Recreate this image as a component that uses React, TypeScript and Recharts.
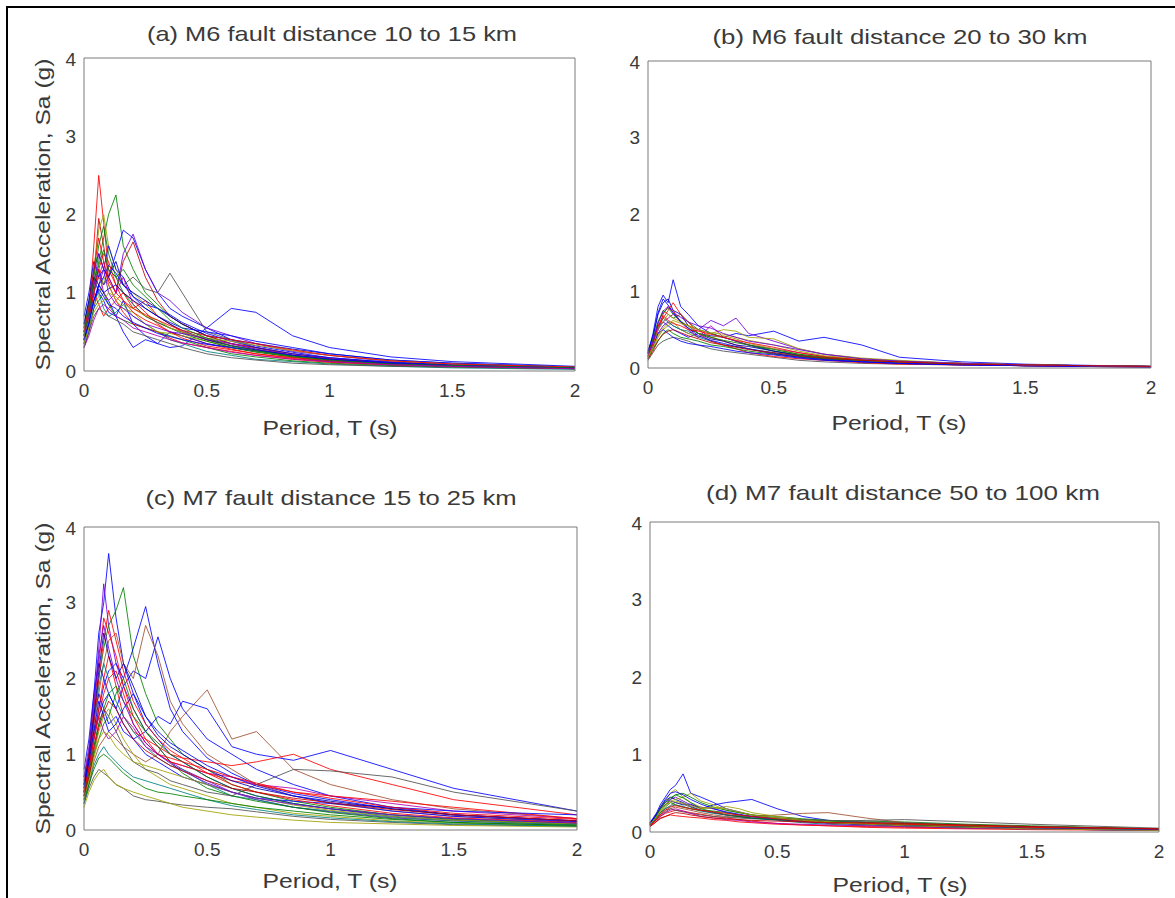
import { LineChart, Line, XAxis, YAxis } from "recharts";

// periods (s) shared by every spectrum
const periods = [0, 0.02, 0.04, 0.06, 0.08, 0.1, 0.13, 0.16, 0.2, 0.25, 0.3, 0.35, 0.4, 0.5, 0.6, 0.7, 0.85, 1.0, 1.25, 1.5, 2.0];

const xTicks = [0, 0.5, 1, 1.5, 2];
const yTicks = [0, 1, 2, 3, 4];

const B = "#0000ff", DB = "#0000b0", G = "#008000", R = "#ff0000", DR = "#c00000", C = "#008080";
const M = "#b000b0", P = "#7000e0", Y = "#a0a000", K = "#505050", BR = "#a05030";

// (a) M6, 10-15 km
const spectraA = [
  [0.45, 0.8, 1.6, 2.5, 1.9, 1.3, 1.1, 1.0, 0.9, 0.75, 0.6, 0.5, 0.45, 0.35, 0.28, 0.22, 0.16, 0.12, 0.08, 0.06, 0.03],
  [0.5, 0.7, 1.0, 1.4, 1.7, 2.0, 2.25, 1.6, 1.3, 1.0, 0.85, 0.7, 0.6, 0.45, 0.35, 0.28, 0.2, 0.15, 0.1, 0.07, 0.04],
  [0.4, 0.6, 1.0, 1.3, 1.1, 1.2, 1.5, 1.8, 1.7, 1.3, 1.0, 0.8, 0.7, 0.55, 0.4, 0.32, 0.24, 0.17, 0.11, 0.08, 0.05],
  [0.35, 0.6, 1.2, 1.95, 1.6, 1.2, 1.0, 1.4, 1.65, 1.2, 0.9, 0.7, 0.6, 0.45, 0.35, 0.3, 0.2, 0.15, 0.1, 0.07, 0.04],
  [0.5, 0.8, 1.2, 1.0, 0.9, 0.75, 0.7, 0.9, 0.6, 0.45, 0.35, 0.3, 0.32, 0.55, 0.8, 0.75, 0.45, 0.3, 0.18, 0.12, 0.06],
  [0.45, 0.7, 1.3, 1.8, 2.0, 1.6, 1.3, 1.1, 1.0, 0.85, 0.7, 0.6, 0.5, 0.4, 0.3, 0.25, 0.18, 0.13, 0.09, 0.06, 0.04],
  [0.4, 0.65, 0.9, 1.1, 1.3, 1.2, 1.0, 1.5, 1.75, 1.3, 1.0, 0.9, 0.75, 0.55, 0.45, 0.35, 0.25, 0.2, 0.12, 0.08, 0.05],
  [0.5, 0.7, 1.0, 1.2, 1.1, 1.3, 1.2, 1.1, 1.2, 1.05, 1.0, 1.25, 1.0, 0.5, 0.4, 0.3, 0.22, 0.16, 0.11, 0.08, 0.05],
  [0.3, 0.5, 0.8, 1.1, 1.0, 0.9, 0.7, 0.5, 0.3, 0.4, 0.35, 0.5, 0.45, 0.35, 0.3, 0.25, 0.18, 0.12, 0.08, 0.06, 0.03],
  [0.55, 0.8, 1.1, 1.2, 1.4, 1.1, 0.9, 1.0, 0.8, 0.9, 0.7, 0.6, 0.5, 0.4, 0.35, 0.3, 0.22, 0.16, 0.1, 0.07, 0.04],
  [0.4, 0.6, 0.9, 1.0, 0.8, 0.7, 0.75, 0.85, 0.7, 0.6, 0.5, 0.4, 0.35, 0.25, 0.2, 0.15, 0.12, 0.09, 0.06, 0.04, 0.02],
  [0.6, 0.9, 1.3, 1.5, 1.3, 1.2, 1.4, 1.1, 1.0, 0.9, 0.8, 0.7, 0.6, 0.45, 0.4, 0.35, 0.28, 0.22, 0.14, 0.1, 0.05],
  [0.35, 0.55, 0.8, 0.9, 1.0, 0.85, 0.7, 0.65, 0.6, 0.55, 0.5, 0.45, 0.4, 0.3, 0.22, 0.18, 0.13, 0.1, 0.07, 0.05, 0.03],
  [0.4, 0.7, 1.0, 0.85, 0.7, 0.8, 0.9, 0.75, 0.6, 0.55, 0.5, 0.42, 0.36, 0.3, 0.25, 0.2, 0.15, 0.11, 0.08, 0.06, 0.03],
  [0.7, 1.0, 1.4, 1.2, 1.3, 1.6, 1.3, 1.2, 0.95, 0.8, 0.7, 0.62, 0.55, 0.5, 0.45, 0.38, 0.3, 0.22, 0.14, 0.1, 0.05],
  [0.45, 0.65, 0.85, 0.95, 1.2, 1.1, 0.9, 0.8, 0.75, 0.6, 0.5, 0.48, 0.45, 0.38, 0.3, 0.25, 0.18, 0.13, 0.09, 0.06, 0.04],
  [0.5, 0.75, 1.1, 1.3, 1.0, 0.9, 1.0, 1.2, 0.85, 0.7, 0.62, 0.55, 0.5, 0.4, 0.33, 0.27, 0.2, 0.15, 0.1, 0.07, 0.04],
  [0.3, 0.5, 0.7, 0.8, 0.75, 0.7, 0.65, 0.6, 0.5, 0.45, 0.4, 0.35, 0.3, 0.22, 0.17, 0.14, 0.1, 0.08, 0.06, 0.05, 0.03],
  [0.55, 0.85, 1.2, 1.6, 1.85, 1.5, 1.2, 1.0, 0.85, 0.7, 0.62, 0.55, 0.48, 0.38, 0.3, 0.24, 0.18, 0.13, 0.09, 0.06, 0.04],
  [0.4, 0.6, 0.9, 1.1, 1.2, 1.35, 1.25, 1.1, 0.95, 0.85, 0.8, 0.72, 0.62, 0.48, 0.38, 0.3, 0.22, 0.17, 0.11, 0.08, 0.05],
  [0.5, 0.7, 1.0, 1.3, 1.5, 1.4, 1.1, 0.9, 0.75, 0.65, 0.58, 0.5, 0.42, 0.32, 0.27, 0.22, 0.17, 0.13, 0.09, 0.06, 0.04],
  [0.45, 0.7, 1.1, 1.5, 1.3, 1.0, 0.85, 0.8, 0.7, 0.6, 0.55, 0.5, 0.48, 0.42, 0.35, 0.28, 0.2, 0.14, 0.09, 0.06, 0.04],
  [0.6, 0.9, 1.2, 1.1, 1.0, 1.05, 1.1, 1.0, 0.9, 0.8, 0.7, 0.6, 0.52, 0.4, 0.32, 0.27, 0.2, 0.15, 0.1, 0.07, 0.04],
  [0.35, 0.55, 0.75, 0.85, 0.9, 1.0, 0.95, 0.85, 0.8, 0.7, 0.65, 0.55, 0.5, 0.42, 0.38, 0.33, 0.26, 0.2, 0.13, 0.09, 0.05],
  [0.5, 0.8, 1.3, 1.7, 1.4, 1.15, 1.0, 0.9, 0.8, 0.72, 0.65, 0.58, 0.52, 0.45, 0.4, 0.35, 0.27, 0.2, 0.13, 0.09, 0.05],
  [0.4, 0.62, 0.9, 1.05, 0.95, 0.85, 0.8, 0.7, 0.62, 0.55, 0.48, 0.44, 0.4, 0.34, 0.3, 0.26, 0.2, 0.15, 0.1, 0.07, 0.04],
  [0.45, 0.75, 1.15, 1.35, 1.55, 1.3, 1.2, 1.3, 1.1, 0.95, 0.8, 0.65, 0.55, 0.42, 0.32, 0.26, 0.19, 0.14, 0.09, 0.07, 0.04],
  [0.3, 0.45, 0.65, 0.8, 0.85, 0.8, 0.7, 0.65, 0.55, 0.5, 0.45, 0.4, 0.36, 0.3, 0.24, 0.2, 0.15, 0.12, 0.08, 0.06, 0.03],
];
const colorsA = [R, G, B, DR, B, Y, P, K, B, R, C, DB, G, R, B, Y, M, K, G, B, R, P, DB, Y, R, B, G, M];

// (b) M6, 20-30 km
const spectraB = [
  [0.2, 0.45, 0.8, 0.95, 0.85, 1.15, 0.8, 0.7, 0.55, 0.45, 0.4, 0.35, 0.3, 0.22, 0.17, 0.14, 0.1, 0.08, 0.05, 0.04, 0.02],
  [0.2, 0.35, 0.55, 0.6, 0.55, 0.5, 0.45, 0.4, 0.45, 0.42, 0.4, 0.45, 0.42, 0.48, 0.35, 0.4, 0.3, 0.14, 0.08, 0.05, 0.02],
  [0.15, 0.3, 0.5, 0.7, 0.8, 0.75, 0.6, 0.55, 0.5, 0.4, 0.35, 0.3, 0.25, 0.18, 0.14, 0.11, 0.08, 0.06, 0.04, 0.03, 0.02],
  [0.18, 0.35, 0.6, 0.75, 0.7, 0.65, 0.7, 0.6, 0.5, 0.45, 0.4, 0.35, 0.3, 0.22, 0.17, 0.13, 0.1, 0.07, 0.05, 0.03, 0.02],
  [0.15, 0.3, 0.45, 0.55, 0.6, 0.55, 0.5, 0.45, 0.5, 0.62, 0.55, 0.65, 0.45, 0.35, 0.25, 0.18, 0.12, 0.09, 0.06, 0.04, 0.02],
  [0.12, 0.25, 0.4, 0.5, 0.55, 0.6, 0.5, 0.45, 0.4, 0.45, 0.5, 0.48, 0.4, 0.38, 0.25, 0.18, 0.13, 0.1, 0.06, 0.04, 0.02],
  [0.22, 0.4, 0.7, 0.85, 0.9, 0.75, 0.7, 0.55, 0.45, 0.38, 0.35, 0.3, 0.28, 0.22, 0.16, 0.12, 0.09, 0.07, 0.05, 0.03, 0.02],
  [0.1, 0.2, 0.3, 0.35, 0.38, 0.4, 0.38, 0.35, 0.3, 0.25, 0.22, 0.2, 0.18, 0.14, 0.1, 0.08, 0.06, 0.05, 0.04, 0.03, 0.01],
  [0.15, 0.3, 0.5, 0.65, 0.6, 0.55, 0.5, 0.48, 0.4, 0.35, 0.3, 0.28, 0.25, 0.2, 0.15, 0.12, 0.09, 0.07, 0.05, 0.03, 0.02],
  [0.2, 0.35, 0.55, 0.65, 0.75, 0.85, 0.7, 0.6, 0.45, 0.35, 0.3, 0.25, 0.2, 0.15, 0.12, 0.1, 0.07, 0.05, 0.04, 0.03, 0.01],
  [0.12, 0.25, 0.35, 0.45, 0.5, 0.45, 0.4, 0.38, 0.35, 0.3, 0.28, 0.25, 0.22, 0.18, 0.15, 0.12, 0.1, 0.08, 0.06, 0.04, 0.02],
  [0.18, 0.3, 0.5, 0.6, 0.65, 0.7, 0.6, 0.5, 0.4, 0.55, 0.4, 0.35, 0.3, 0.25, 0.2, 0.15, 0.1, 0.08, 0.05, 0.03, 0.02],
  [0.15, 0.28, 0.45, 0.5, 0.45, 0.4, 0.35, 0.32, 0.3, 0.28, 0.25, 0.22, 0.2, 0.17, 0.13, 0.1, 0.08, 0.06, 0.04, 0.03, 0.01],
  [0.14, 0.3, 0.5, 0.6, 0.7, 0.65, 0.6, 0.55, 0.45, 0.4, 0.42, 0.38, 0.32, 0.25, 0.18, 0.14, 0.1, 0.08, 0.05, 0.04, 0.02],
  [0.2, 0.38, 0.6, 0.72, 0.78, 0.7, 0.62, 0.52, 0.45, 0.4, 0.36, 0.33, 0.3, 0.24, 0.18, 0.14, 0.1, 0.08, 0.05, 0.04, 0.02],
  [0.16, 0.32, 0.55, 0.68, 0.62, 0.58, 0.55, 0.5, 0.48, 0.44, 0.4, 0.36, 0.33, 0.27, 0.2, 0.15, 0.11, 0.08, 0.06, 0.04, 0.02],
  [0.22, 0.42, 0.72, 0.9, 0.82, 0.72, 0.6, 0.52, 0.42, 0.36, 0.32, 0.28, 0.25, 0.19, 0.14, 0.11, 0.08, 0.06, 0.04, 0.03, 0.02],
  [0.14, 0.26, 0.42, 0.52, 0.58, 0.62, 0.58, 0.55, 0.5, 0.46, 0.44, 0.4, 0.36, 0.3, 0.22, 0.16, 0.12, 0.09, 0.06, 0.04, 0.02],
  [0.18, 0.34, 0.58, 0.74, 0.8, 0.72, 0.66, 0.6, 0.55, 0.52, 0.45, 0.4, 0.35, 0.3, 0.24, 0.18, 0.12, 0.09, 0.06, 0.04, 0.02],
  [0.12, 0.22, 0.36, 0.44, 0.48, 0.5, 0.46, 0.42, 0.38, 0.33, 0.3, 0.27, 0.24, 0.2, 0.16, 0.13, 0.1, 0.08, 0.05, 0.04, 0.02],
];
const colorsB = [B, B, R, G, P, Y, DB, K, C, R, G, M, B, Y, G, R, B, Y, P, DR];

// (c) M7, 15-25 km
const spectraC = [
  [0.6, 1.0, 1.8, 2.6, 3.0, 3.65, 2.8, 2.2, 1.8, 1.4, 1.2, 1.0, 0.9, 0.7, 0.55, 0.45, 0.35, 0.28, 0.18, 0.13, 0.08],
  [0.5, 0.9, 1.6, 2.4, 3.25, 2.7, 2.2, 1.9, 1.6, 1.3, 1.1, 0.9, 0.8, 0.65, 0.5, 0.4, 0.3, 0.24, 0.16, 0.12, 0.07],
  [0.55, 1.0, 1.5, 2.0, 2.4, 2.7, 2.9, 3.2, 2.3, 1.8, 1.4, 1.2, 1.0, 0.8, 0.6, 0.5, 0.38, 0.3, 0.2, 0.15, 0.09],
  [0.5, 0.8, 1.2, 1.6, 1.9, 2.1, 2.2, 2.0, 2.4, 2.95, 2.2, 1.6, 1.3, 0.95, 0.75, 0.6, 0.48, 0.4, 0.28, 0.2, 0.12],
  [0.6, 0.9, 1.3, 1.5, 1.7, 1.8, 1.6, 1.9, 2.1, 2.0, 2.55, 2.0, 1.6, 1.2, 1.0, 0.8, 0.6, 0.45, 0.3, 0.2, 0.12],
  [0.45, 0.8, 1.3, 1.8, 2.2, 2.5, 2.6, 2.2, 2.0, 2.7, 2.3, 1.7, 1.4, 1.0, 0.8, 0.6, 0.45, 0.35, 0.25, 0.18, 0.1],
  [0.35, 0.6, 0.9, 1.1, 1.2, 1.3, 1.2, 1.1, 1.0, 0.9, 1.0, 1.3, 1.5, 1.85, 1.2, 1.3, 0.8, 0.6, 0.4, 0.28, 0.15],
  [0.7, 1.0, 1.5, 1.8, 1.6, 1.4, 1.5, 1.3, 1.2, 1.3, 1.5, 1.4, 1.7, 1.6, 1.1, 1.0, 0.92, 1.05, 0.8, 0.55, 0.25],
  [0.5, 0.8, 1.2, 1.6, 2.0, 2.3, 1.9, 1.5, 1.3, 1.2, 1.1, 1.0, 0.95, 0.9, 0.85, 0.9, 1.0, 0.8, 0.6, 0.4, 0.2],
  [0.4, 0.7, 1.0, 1.3, 1.5, 1.6, 1.4, 1.2, 1.0, 0.8, 0.7, 0.6, 0.55, 0.45, 0.35, 0.3, 0.22, 0.18, 0.12, 0.09, 0.05],
  [0.6, 0.9, 1.4, 1.9, 2.2, 2.0, 1.7, 1.5, 1.3, 1.1, 0.95, 0.85, 0.8, 0.6, 0.45, 0.4, 0.3, 0.25, 0.17, 0.12, 0.07],
  [0.35, 0.55, 0.7, 0.8, 0.75, 0.7, 0.6, 0.55, 0.45, 0.4, 0.38, 0.35, 0.33, 0.3, 0.28, 0.24, 0.18, 0.14, 0.1, 0.07, 0.05],
  [0.45, 0.7, 1.0, 1.2, 1.4, 1.5, 1.8, 2.0, 1.6, 1.3, 1.1, 0.9, 0.75, 0.55, 0.45, 0.38, 0.3, 0.23, 0.15, 0.1, 0.06],
  [0.55, 0.85, 1.2, 1.5, 1.3, 1.2, 1.3, 1.5, 1.35, 1.1, 1.0, 0.9, 0.85, 0.75, 0.7, 0.6, 0.55, 0.45, 0.35, 0.25, 0.15],
  [0.65, 1.0, 1.6, 2.2, 2.8, 2.6, 2.3, 1.9, 1.5, 1.2, 1.0, 0.9, 0.85, 0.75, 0.65, 0.6, 0.5, 0.45, 0.38, 0.3, 0.15],
  [0.5, 0.8, 1.1, 1.4, 1.6, 1.5, 1.3, 1.1, 0.9, 0.8, 0.75, 0.65, 0.6, 0.5, 0.45, 0.6, 0.8, 0.78, 0.7, 0.5, 0.25],
  [0.3, 0.5, 0.65, 0.75, 0.8, 0.7, 0.6, 0.55, 0.5, 0.45, 0.4, 0.35, 0.3, 0.25, 0.2, 0.17, 0.13, 0.1, 0.08, 0.06, 0.04],
  [0.8, 1.2, 1.8, 2.2, 2.0, 1.8, 1.6, 1.4, 1.2, 1.0, 0.9, 0.8, 0.7, 0.6, 0.5, 0.42, 0.38, 0.35, 0.3, 0.25, 0.2],
  [0.5, 0.85, 1.4, 2.0, 2.5, 2.9, 2.5, 2.1, 1.7, 1.4, 1.2, 1.05, 0.95, 0.75, 0.6, 0.5, 0.4, 0.32, 0.22, 0.16, 0.1],
  [0.45, 0.75, 1.1, 1.4, 1.6, 1.8, 1.9, 1.7, 1.5, 1.3, 1.15, 1.0, 0.9, 0.7, 0.55, 0.45, 0.35, 0.28, 0.2, 0.14, 0.08],
  [0.6, 0.95, 1.5, 2.1, 2.6, 2.3, 2.0, 2.2, 1.9, 1.5, 1.25, 1.1, 1.0, 0.8, 0.65, 0.55, 0.45, 0.38, 0.28, 0.2, 0.12],
  [0.4, 0.65, 0.95, 1.2, 1.3, 1.25, 1.1, 1.0, 0.9, 0.85, 0.8, 0.75, 0.7, 0.6, 0.5, 0.42, 0.33, 0.26, 0.18, 0.13, 0.08],
  [0.55, 0.9, 1.3, 1.7, 1.5, 1.3, 1.4, 1.6, 1.8, 1.5, 1.3, 1.15, 1.05, 0.85, 0.7, 0.58, 0.45, 0.36, 0.25, 0.18, 0.11],
  [0.35, 0.6, 0.85, 1.0, 1.1, 1.0, 0.9, 0.8, 0.7, 0.65, 0.6, 0.55, 0.5, 0.4, 0.32, 0.27, 0.2, 0.16, 0.11, 0.08, 0.05],
  [0.5, 0.8, 1.2, 1.5, 1.8, 2.0, 2.1, 1.8, 1.4, 1.15, 1.0, 0.95, 0.9, 0.8, 0.7, 0.62, 0.5, 0.42, 0.3, 0.22, 0.14],
  [0.7, 1.1, 1.7, 2.3, 2.7, 2.4, 2.0, 1.7, 1.4, 1.15, 1.0, 0.88, 0.78, 0.62, 0.5, 0.42, 0.34, 0.28, 0.2, 0.15, 0.09],
  [0.4, 0.6, 0.8, 0.95, 1.0, 0.95, 0.85, 0.75, 0.65, 0.55, 0.5, 0.48, 0.45, 0.4, 0.35, 0.3, 0.25, 0.2, 0.14, 0.1, 0.06],
  [0.45, 0.7, 1.05, 1.35, 1.55, 1.7, 1.6, 1.4, 1.2, 1.05, 0.95, 0.85, 0.78, 0.65, 0.55, 0.5, 0.42, 0.36, 0.27, 0.2, 0.12],
];
const colorsC = [B, P, G, B, B, BR, BR, B, R, Y, C, K, G, M, R, K, Y, B, R, G, DB, Y, B, C, R, P, G, DR];

// (d) M7, 50-100 km
const spectraD = [
  [0.1, 0.2, 0.35, 0.45, 0.55, 0.6, 0.75, 0.5, 0.45, 0.38, 0.3, 0.26, 0.22, 0.18, 0.15, 0.12, 0.1, 0.08, 0.06, 0.04, 0.02],
  [0.12, 0.22, 0.3, 0.35, 0.4, 0.38, 0.35, 0.36, 0.3, 0.35, 0.38, 0.4, 0.42, 0.3, 0.2, 0.15, 0.12, 0.1, 0.07, 0.05, 0.03],
  [0.1, 0.2, 0.32, 0.4, 0.5, 0.55, 0.45, 0.5, 0.4, 0.35, 0.28, 0.25, 0.22, 0.17, 0.14, 0.12, 0.1, 0.09, 0.07, 0.05, 0.03],
  [0.08, 0.14, 0.2, 0.24, 0.26, 0.28, 0.27, 0.25, 0.23, 0.2, 0.18, 0.16, 0.14, 0.11, 0.09, 0.08, 0.06, 0.05, 0.04, 0.03, 0.02],
  [0.1, 0.18, 0.28, 0.35, 0.42, 0.48, 0.5, 0.45, 0.38, 0.32, 0.28, 0.25, 0.22, 0.2, 0.17, 0.15, 0.14, 0.13, 0.1, 0.08, 0.04],
  [0.08, 0.15, 0.22, 0.28, 0.3, 0.32, 0.3, 0.28, 0.25, 0.22, 0.2, 0.19, 0.2, 0.22, 0.24, 0.25, 0.18, 0.12, 0.08, 0.05, 0.02],
  [0.12, 0.2, 0.3, 0.38, 0.42, 0.45, 0.4, 0.35, 0.32, 0.3, 0.25, 0.22, 0.2, 0.16, 0.13, 0.11, 0.09, 0.08, 0.06, 0.04, 0.02],
  [0.09, 0.15, 0.22, 0.26, 0.3, 0.28, 0.26, 0.24, 0.22, 0.2, 0.19, 0.18, 0.17, 0.16, 0.15, 0.14, 0.15, 0.16, 0.13, 0.1, 0.05],
  [0.1, 0.17, 0.25, 0.3, 0.33, 0.35, 0.33, 0.3, 0.27, 0.24, 0.22, 0.2, 0.18, 0.15, 0.12, 0.1, 0.08, 0.07, 0.05, 0.04, 0.02],
  [0.07, 0.12, 0.18, 0.2, 0.22, 0.21, 0.2, 0.19, 0.18, 0.16, 0.15, 0.13, 0.12, 0.1, 0.09, 0.08, 0.07, 0.06, 0.05, 0.04, 0.03],
  [0.09, 0.16, 0.25, 0.32, 0.38, 0.35, 0.32, 0.3, 0.28, 0.27, 0.25, 0.22, 0.2, 0.18, 0.16, 0.14, 0.12, 0.11, 0.09, 0.07, 0.04],
  [0.11, 0.2, 0.3, 0.4, 0.45, 0.42, 0.38, 0.33, 0.28, 0.25, 0.22, 0.2, 0.18, 0.16, 0.14, 0.12, 0.1, 0.08, 0.06, 0.05, 0.03],
  [0.1, 0.18, 0.28, 0.36, 0.4, 0.42, 0.45, 0.38, 0.32, 0.3, 0.33, 0.3, 0.25, 0.2, 0.16, 0.13, 0.11, 0.1, 0.08, 0.06, 0.03],
  [0.08, 0.14, 0.2, 0.25, 0.28, 0.3, 0.27, 0.24, 0.2, 0.18, 0.16, 0.15, 0.13, 0.11, 0.1, 0.09, 0.08, 0.07, 0.05, 0.04, 0.02],
  [0.1, 0.18, 0.3, 0.38, 0.44, 0.48, 0.44, 0.38, 0.3, 0.26, 0.22, 0.2, 0.18, 0.16, 0.14, 0.12, 0.1, 0.09, 0.07, 0.05, 0.03],
  [0.09, 0.16, 0.24, 0.3, 0.34, 0.38, 0.36, 0.32, 0.28, 0.25, 0.22, 0.21, 0.2, 0.18, 0.16, 0.15, 0.13, 0.12, 0.09, 0.07, 0.04],
  [0.11, 0.2, 0.32, 0.42, 0.5, 0.52, 0.48, 0.42, 0.36, 0.3, 0.26, 0.23, 0.2, 0.17, 0.14, 0.12, 0.1, 0.08, 0.06, 0.05, 0.03],
  [0.08, 0.14, 0.22, 0.28, 0.32, 0.34, 0.32, 0.3, 0.28, 0.26, 0.24, 0.22, 0.2, 0.17, 0.14, 0.12, 0.11, 0.1, 0.08, 0.06, 0.04],
  [0.1, 0.17, 0.26, 0.34, 0.38, 0.4, 0.37, 0.34, 0.3, 0.32, 0.3, 0.26, 0.22, 0.18, 0.15, 0.12, 0.1, 0.08, 0.06, 0.04, 0.02],
  [0.07, 0.12, 0.17, 0.2, 0.23, 0.25, 0.24, 0.22, 0.2, 0.18, 0.17, 0.16, 0.15, 0.14, 0.13, 0.12, 0.12, 0.11, 0.09, 0.07, 0.04],
];
const colorsD = [B, B, Y, R, G, BR, P, K, C, R, G, DB, Y, M, G, K, B, R, Y, DR];

const FONT = "'Liberation Sans', Arial, Helvetica, sans-serif";
const AXIS = "#7a7a7a";
const TEXT = "#3a3a3a";

const panels = [
  { title: "(a) M6 fault distance 10 to 15 km", tw: 370, spectra: spectraA, colors: colorsA, x: 84, y: 58, w: 491, h: 313, tx: 332, ty: 33, lx: 330, ly: 427, ylabel: true },
  { title: "(b) M6  fault distance 20 to 30 km", tw: 375, spectra: spectraB, colors: colorsB, x: 648, y: 61, w: 503, h: 307, tx: 900, ty: 36, lx: 899, ly: 422, ylabel: false },
  { title: "(c) M7  fault distance 15 to 25 km", tw: 371, spectra: spectraC, colors: colorsC, x: 84, y: 527, w: 493, h: 303, tx: 331, ty: 497, lx: 330, ly: 880, ylabel: true },
  { title: "(d) M7  fault distance 50 to 100 km", tw: 394, spectra: spectraD, colors: colorsD, x: 650, y: 522, w: 509, h: 310, tx: 903, ty: 492, lx: 900, ly: 884, ylabel: false },
];

function toRows(spectra: number[][]) {
  return periods.map((T, i) => {
    const row: Record<string, number> = { T };
    spectra.forEach((s, j) => {
      row["s" + j] = s[i];
    });
    return row;
  });
}

const tickFont = { fontSize: 19, fill: TEXT, fontFamily: FONT };

function Panel({ p }: { p: (typeof panels)[number] }) {
  const rows = toRows(p.spectra);
  return (
    <div style={{ position: "absolute", left: p.x - 50, top: p.y - 10 }}>
      <LineChart width={p.w + 60} height={p.h + 40} data={rows} margin={{ top: 0, right: 0, bottom: 0, left: 0 }}>
        <XAxis
          xAxisId="b"
          dataKey="T"
          type="number"
          domain={[0, 2]}
          ticks={xTicks}
          height={30}
          stroke={AXIS}
          tickLine={false}
          tickSize={-5}
          tickMargin={18}
          tick={tickFont}
        />
        <XAxis xAxisId="t" orientation="top" dataKey="T" type="number" domain={[0, 2]} ticks={xTicks} height={10} stroke={AXIS} tickLine={false} tick={false} />
        <YAxis
          yAxisId="l"
          type="number"
          domain={[0, 4]}
          ticks={yTicks}
          width={50}
          stroke={AXIS}
          tickLine={false}
          tickSize={-5}
          tickMargin={13}
          tick={tickFont}
        />
        <YAxis yAxisId="r" orientation="right" type="number" domain={[0, 4]} ticks={yTicks} width={10} stroke={AXIS} tickLine={false} tick={false} />
        {p.spectra.map((_, j) => (
          <Line
            key={j}
            xAxisId="b"
            yAxisId="l"
            type="linear"
            dataKey={"s" + j}
            stroke={p.colors[j % p.colors.length]}
            strokeWidth={1}
            strokeOpacity={0.85}
            dot={false}
            activeDot={false}
            isAnimationActive={false}
          />
        ))}
      </LineChart>
    </div>
  );
}

export default function App() {
  return (
    <div style={{ position: "absolute", left: 0, top: 0, width: 1175, height: 898, background: "#fff", overflow: "hidden" }}>
      <div style={{ position: "absolute", left: 6, top: 6, width: 1175, height: 898, borderLeft: "2px solid #000", borderTop: "2px solid #000" }} />
      {panels.map((p, i) => (
        <Panel key={i} p={p} />
      ))}
      <svg width={1175} height={898} style={{ position: "absolute", left: 0, top: 0, pointerEvents: "none" }}>
        {panels.map((p, i) => (
          <g key={i} fontFamily={FONT} fill={TEXT}>
            <text x={p.tx} y={p.ty} fontSize={21} textAnchor="middle" dominantBaseline="central" textLength={p.tw} lengthAdjust="spacingAndGlyphs">
              {p.title}
            </text>
            <text x={p.lx} y={p.ly} fontSize={21} textAnchor="middle" dominantBaseline="central" textLength={135} lengthAdjust="spacingAndGlyphs">
              Period, T (s)
            </text>
            {p.ylabel && (
              <text
                x={42}
                y={p.y + p.h / 2}
                fontSize={21}
                textAnchor="middle"
                dominantBaseline="central"
                textLength={312}
                lengthAdjust="spacingAndGlyphs"
                transform={`rotate(-90 42 ${p.y + p.h / 2})`}
              >
                Spectral Acceleration, Sa (g)
              </text>
            )}
          </g>
        ))}
      </svg>
    </div>
  );
}
